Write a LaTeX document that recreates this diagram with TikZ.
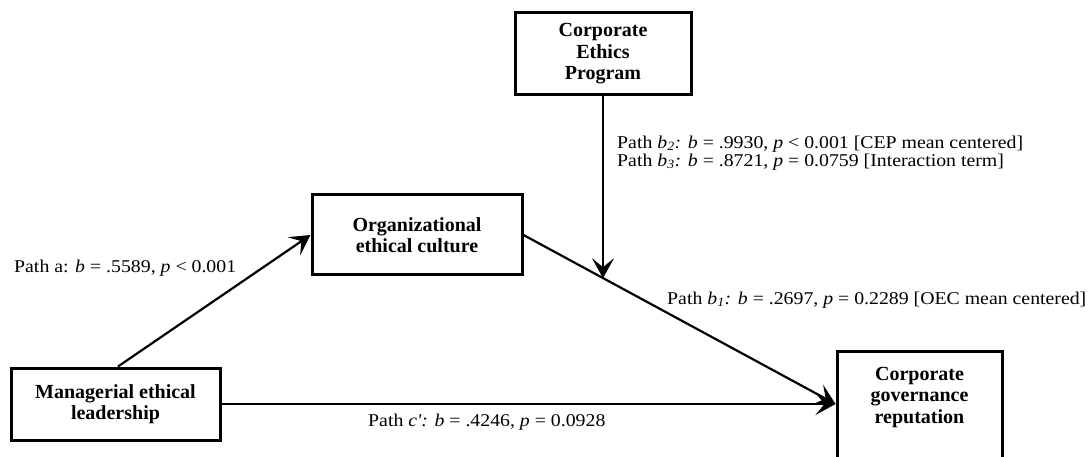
\documentclass[tikz,border=0pt]{standalone}
\usepackage{fontspec}
\usepackage{graphicx}
\setmainfont{Liberation Serif}
\usetikzlibrary{arrows.meta,calc}
% path labels are set slightly widened
\newcommand{\wide}[1]{\scalebox{1.1}[1]{#1}}

\begin{document}
\begin{tikzpicture}[x=1pt,y=-1pt,
  box/.style={draw, line width=3pt, align=center, inner sep=0pt,
    font=\fontsize{20}{21.5}\selectfont\bfseries},
  boxtext/.style={align=center, inner sep=0pt,
    font=\fontsize{20}{21.5}\selectfont\bfseries},
  link/.style={line width=2.2pt, -{Stealth[length=20pt,width=22pt,inset=9pt]}},
  lbl/.style={font=\fontsize{18}{18}\selectfont, inner sep=0pt, anchor=west, align=left}]
\useasboundingbox (0,0) rectangle (1088,457);
\clip (0,0) rectangle (1088,457);

% variables
\node[box, minimum width=176, minimum height=82] (cep) at (603,54) {Corporate\\Ethics\\Program};
\node[box, minimum width=210, minimum height=80] (oec) at (417,235) {Organizational\\ethical culture};
\node[box, minimum width=209, minimum height=72] (mel) at (115.5,404) {Managerial ethical\\leadership};
\node[box, minimum width=165, minimum height=127] (cgr) at (919.5,415.5) {};
\node[boxtext, anchor=north] (cgrtext) at (cgr.north |- 0,367) {Corporate\\governance\\reputation};

% paths
\coordinate (tgt) at (cgr.west |- mel.east);
\coordinate (mod) at ($(oec.east)!0.2556!(tgt)$);
\draw[link] ([xshift=2.5]mel.north) -- (oec.west);
\draw[link] (oec.east) -- (tgt);
\draw[link] (mel.east) -- (tgt);
\draw[link] (cep.south) -- (cep.south |- mod);

% path coefficients
\node[lbl] (la) at (14,268) {\wide{Path a: \textit{b} = .5589, \textit{p} < 0.001}};
\node[lbl] (lb1) at (667,300) {\wide{Path \textit{b\textsubscript{1}:} \textit{b} = .2697, \textit{p} = 0.2289 [OEC mean centered]}};
\node[lbl] (lb23) at (617,153) {\wide{Path \textit{b\textsubscript{2}:} \textit{b} = .9930, \textit{p} < 0.001 [CEP mean centered]}\\
  \wide{Path \textit{b\textsubscript{3}:} \textit{b} = .8721, \textit{p} = 0.0759 [Interaction term]}};
\node[lbl] (lc) at (368,422) {\wide{Path \textit{c\textquotesingle:} \textit{b} = .4246, \textit{p} = 0.0928}};
\end{tikzpicture}
\end{document}
